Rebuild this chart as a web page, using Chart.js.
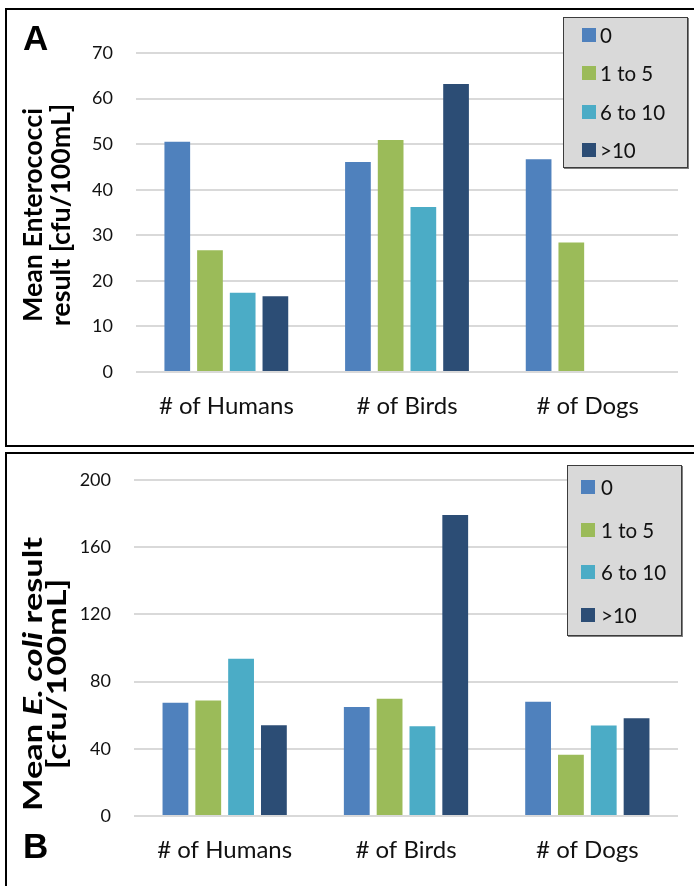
<!DOCTYPE html>
<html>
<head>
<meta charset="utf-8">
<script src="https://cdn.jsdelivr.net/npm/chart.js@4.4.1/dist/chart.umd.min.js"></script>
<style>
  html, body { margin: 0; padding: 0; background: #fff; }
  #page { position: relative; width: 694px; height: 886px; overflow: hidden; font-family: Lato, "Open Sans", sans-serif; color: #111; }
  .panel { position: absolute; border: 2px solid #000; box-sizing: border-box; pointer-events: none; }
  canvas { position: absolute; left: 0; }
  .ytitle { position: absolute; font-weight: 700; font-size: 26px; text-align: center; white-space: nowrap; color: #000; }
  .letter { position: absolute; font-family: "Liberation Sans", Arial, sans-serif; font-weight: 700; font-size: 35px; line-height: 35px; color: #000; }
  .legend { position: absolute; background: #d9d9d9; border: 1px solid #3c3c3c; box-shadow: 1px 1px 0 #7f7f7f; box-sizing: border-box; }
  .swatch { position: absolute; width: 14px; height: 14px; }
  .ltext { position: absolute; height: 24px; line-height: 24px; font-size: 20.5px; white-space: nowrap; color: #111; }
</style>
</head>
<body>
<div id="page">
  <canvas id="chartA" width="694" height="446" style="top:0"></canvas>
  <canvas id="chartB" width="694" height="440" style="top:446px"></canvas>

  <div class="panel" style="left:5px; top:8px; width:700px; height:439px;"></div>
  <div class="panel" style="left:5px; top:452px; width:700px; height:450px;"></div>

  <div class="letter" style="left:23px; top:20px;">A</div>
  <div class="letter" style="left:23px; top:828px;">B</div>

  <div class="ytitle" style="left:-104px; top:187px; width:300px; line-height:28px; transform:rotate(-90deg) scaleX(1.03);">Mean Enterococci<br>result [cfu/100mL]</div>
  <div class="ytitle" style="left:-106px; top:650px; width:300px; line-height:24px; transform:rotate(-90deg) scaleX(1.32);">Mean <i>E. coli</i> result<br>[cfu/100mL]</div>

  <div class="legend" id="legendA" style="left:563px; top:17px; width:125px; height:151px;"></div>
  <div class="legend" id="legendB" style="left:567px; top:465px; width:115px; height:171px;"></div>
</div>

<script>
// Site categories on the x axis
const categories = ['# of Humans', '# of Birds', '# of Dogs'];

// Count groups (one bar series each)
const groups = ['0', '1 to 5', '6 to 10', '>10'];

// Mean Enterococci [cfu/100mL] per count group
const enteroZero    = [50.5, 46.1, 46.7];
const enteroOneTo5  = [26.7, 50.9, 28.4];
const enteroSixTo10 = [17.4, 36.2, null];
const enteroOver10  = [16.6, 63.2, null];

// Mean E. coli [cfu/100mL] per count group
const ecoliZero    = [67.3, 64.8, 67.9];
const ecoliOneTo5  = [68.7, 69.8, 36.5];
const ecoliSixTo10 = [93.5, 53.4, 53.8];
const ecoliOver10  = [54.0, 179.0, 58.2];

// Value-axis tick labels
const enteroTicks = [0, 10, 20, 30, 40, 50, 60, 70];
const ecoliTicks  = [0, 40, 80, 120, 160, 200];

// Series colours
const palette = ['#4f81bd', '#9bbb59', '#4bacc6', '#2c4d75'];

function makeChart(id, series, ticks, axisWidth, axisHeight, padding) {
  return new Chart(document.getElementById(id), {
    type: 'bar',
    data: {
      labels: categories,
      datasets: groups.map((g, i) => ({
        label: g,
        data: series[i],
        backgroundColor: palette[i],
        borderWidth: 0,
        categoryPercentage: 0.724,
        barPercentage: 0.786
      }))
    },
    options: {
      responsive: false,
      animation: false,
      devicePixelRatio: 1,
      layout: { padding: padding },
      plugins: { legend: { display: false }, tooltip: { enabled: false } },
      scales: {
        x: {
          grid: { display: false, drawTicks: false },
          border: { display: false },
          ticks: { font: { family: 'Lato', size: 24 }, color: '#111', padding: 20 },
          afterFit(scale) { scale.height = axisHeight; }
        },
        y: {
          min: ticks[0],
          max: ticks[ticks.length - 1],
          afterBuildTicks(scale) { scale.ticks = ticks.map(v => ({ value: v })); },
          grid: { color: '#d9d9d9', lineWidth: 2, drawTicks: false },
          border: { display: false },
          ticks: { font: { family: 'Lato', size: 18 }, color: '#111', padding: 23 },
          afterFit(scale) { scale.width = axisWidth; }
        }
      }
    }
  });
}

// Legend rows: swatch + label, centred on each row's y
function buildLegend(id, rows, swatchX, textX) {
  const box = document.getElementById(id);
  const bx = parseFloat(box.style.left), by = parseFloat(box.style.top);
  groups.forEach((g, i) => {
    const sw = document.createElement('div');
    sw.className = 'swatch';
    sw.style.background = palette[i];
    sw.style.left = (swatchX - bx - 1) + 'px';
    sw.style.top = (rows[i] - 7 - by - 1) + 'px';
    box.appendChild(sw);
    const t = document.createElement('div');
    t.className = 'ltext';
    t.textContent = g;
    t.style.left = (textX - bx - 1) + 'px';
    t.style.top = (rows[i] - 12 - by - 1) + 'px';
    box.appendChild(t);
  });
}

makeChart('chartA', [enteroZero, enteroOneTo5, enteroSixTo10, enteroOver10], enteroTicks, 136, 74,
  { left: 0, right: 16, top: 53, bottom: 0 });
makeChart('chartB', [ecoliZero, ecoliOneTo5, ecoliSixTo10, ecoliOver10], ecoliTicks, 134, 70,
  { left: 0, right: 16, top: 23, bottom: 0 });

buildLegend('legendA', [35, 73, 112, 150], 582, 600);
buildLegend('legendB', [487, 530, 572, 615], 581, 601);
</script>
</body>
</html>
